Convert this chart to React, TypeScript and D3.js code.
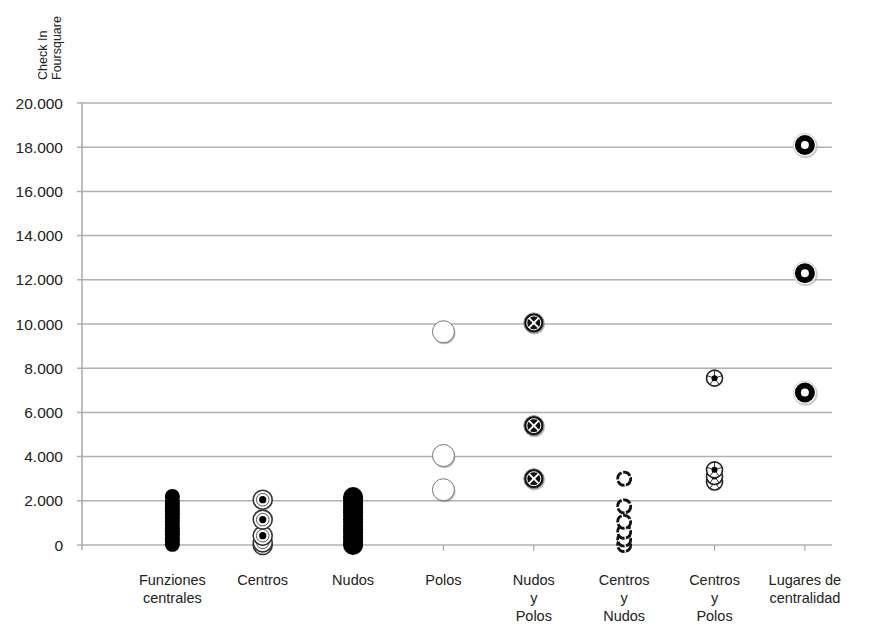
import React from "react";
import * as d3 from "d3";

const categoryLabels: string[][] = [
  ["Funziones", "centrales"],
  ["Centros"],
  ["Nudos"],
  ["Polos"],
  ["Nudos", "y", "Polos"],
  ["Centros", "y", "Nudos"],
  ["Centros", "y", "Polos"],
  ["Lugares de", "centralidad"],
];

const funzionesValues = [30, 180, 310, 470, 620, 760, 900, 1080, 1230, 1390, 1520, 1680, 1850, 1990, 2200];
const centrosValues = [0, 120, 420, 1150, 2050];
const nudosValues = [0, 90, 240, 380, 560, 700, 850, 1010, 1160, 1320, 1480, 1600, 1770, 1920, 2060, 2170];
const polosValues = [2500, 4050, 9650];
const nudosPolosValues = [3000, 5400, 10050];
const centrosNudosValues = [0, 250, 600, 1050, 1750, 3000];
const centrosPolosValues = [2850, 3100, 3400, 7550];
const lugaresValues = [6900, 12300, 18100];

const yTicks = [0, 2000, 4000, 6000, 8000, 10000, 12000, 14000, 16000, 18000, 20000];

const series = [
  { pos: 1, values: funzionesValues, kind: "funz" },
  { pos: 2, values: centrosValues, kind: "centros" },
  { pos: 3, values: nudosValues, kind: "nudos" },
  { pos: 4, values: polosValues, kind: "polos" },
  { pos: 5, values: nudosPolosValues, kind: "nudospolos" },
  { pos: 6, values: centrosNudosValues, kind: "centrosnudos" },
  { pos: 7, values: centrosPolosValues, kind: "centrospolos" },
  { pos: 8, values: lugaresValues, kind: "lugares" },
];

const fmt = d3.formatLocale({ decimal: ",", thousands: ".", grouping: [3], currency: ["", ""] }).format(",");

function Marker({ kind, cx, cy }: { kind: string; cx: number; cy: number }) {
  const t = `translate(${cx},${cy})`;
  switch (kind) {
    case "funz":
      return <circle transform={t} r={7.5} fill="#000" />;
    case "nudos":
      return <circle transform={t} r={10} fill="#000" />;
    case "centros":
      return (
        <g transform={t}>
          <circle r={9.5} fill="#fff" stroke="#333" strokeWidth={1.6} />
          <circle r={6.3} fill="#fff" stroke="#555" strokeWidth={1} />
          <circle r={3.6} fill="#000" />
        </g>
      );
    case "polos":
      return (
        <g transform={t}>
          <circle cx={1} cy={1.5} r={11} fill="#888" opacity={0.6} />
          <circle r={11} fill="#fff" stroke="#777" strokeWidth={1} />
        </g>
      );
    case "nudospolos": {
      const spokes = [45, 135, 225, 315].map((a) => (a * Math.PI) / 180);
      return (
        <g transform={t}>
          <circle cx={0.8} cy={1.2} r={10.5} fill="#999" opacity={0.6} />
          <circle r={10} fill="#111" stroke="#888" strokeWidth={1} />
          <circle r={7} fill="none" stroke="#fff" strokeWidth={1} />
          {spokes.map((a, i) => (
            <line key={i} x1={0} y1={0} x2={7 * Math.cos(a)} y2={7 * Math.sin(a)} stroke="#fff" strokeWidth={1.8} />
          ))}
          <circle r={1.5} fill="#fff" />
        </g>
      );
    }
    case "centrosnudos":
      return (
        <g transform={t}>
          <circle cx={0.6} cy={1} r={7} fill="#999" opacity={0.5} />
          <circle r={6.5} fill="#fff" stroke="#111" strokeWidth={2.8} strokeDasharray="8 1.6" />
        </g>
      );
    case "centrospolos": {
      const spokes = [-90, -18, 54, 126, 198].map((a) => (a * Math.PI) / 180);
      return (
        <g transform={t}>
          <circle r={8} fill="#fff" stroke="#222" strokeWidth={1.6} />
          {spokes.map((a, i) => (
            <line key={i} x1={0} y1={0} x2={7.5 * Math.cos(a)} y2={7.5 * Math.sin(a)} stroke="#333" strokeWidth={1} />
          ))}
          <circle r={3} fill="#000" />
        </g>
      );
    }
    case "lugares":
      return (
        <g transform={t}>
          <circle cx={0.8} cy={1.2} r={12} fill="#aaa" opacity={0.6} />
          <circle r={11.5} fill="#fff" stroke="#ccc" strokeWidth={1} />
          <circle r={10} fill="#000" />
          <circle r={4} fill="#fff" />
        </g>
      );
    default:
      return null;
  }
}

export default function App() {
  const width = 884;
  const height = 628;
  const x = d3.scaleLinear().domain([0, 8.3]).range([82, 832]);
  const y = d3.scaleLinear().domain([0, 20000]).range([545, 103]);
  const axisX = x(0);

  return (
    <svg
      width={width}
      height={height}
      style={{ position: "absolute", left: 0, top: 0, background: "#fff" }}
      fontFamily="'Liberation Sans', Arial, sans-serif"
    >
      {/* y-axis title */}
      <g transform="translate(47,80) rotate(-90)">
        <text fontSize={12.5} fill="#222">Check In</text>
      </g>
      <g transform="translate(61,80) rotate(-90)">
        <text fontSize={12.5} fill="#222">Foursquare</text>
      </g>

      {/* gridlines + ticks */}
      {yTicks.map((v) => (
        <g key={v}>
          <line x1={axisX - 5} x2={x(8.3)} y1={y(v)} y2={y(v)} stroke="#b0b0b0" strokeWidth={1.5} />
          <text x={63} y={y(v)} dy="0.36em" textAnchor="end" fontSize={15.5} fill="#222">
            {fmt(v)}
          </text>
        </g>
      ))}
      {/* y axis line */}
      <line x1={axisX} x2={axisX} y1={y(20000)} y2={y(0) + 5} stroke="#a8a8a8" strokeWidth={1.5} />
      {/* x ticks */}
      {series.map((s) => (
        <line key={s.pos} x1={x(s.pos)} x2={x(s.pos)} y1={y(0)} y2={y(0) + 6} stroke="#a8a8a8" strokeWidth={1.2} />
      ))}

      {/* markers */}
      {series.map((s) =>
        s.values.map((v, i) => <Marker key={`${s.pos}-${i}`} kind={s.kind} cx={x(s.pos)} cy={y(v)} />)
      )}

      {/* x labels */}
      {categoryLabels.map((lines, i) => (
        <text key={i} x={x(i + 1)} y={585} textAnchor="middle" fontSize={14.5} fill="#222">
          {lines.map((l, j) => (
            <tspan key={j} x={x(i + 1)} dy={j === 0 ? 0 : 18}>
              {l}
            </tspan>
          ))}
        </text>
      ))}
    </svg>
  );
}
